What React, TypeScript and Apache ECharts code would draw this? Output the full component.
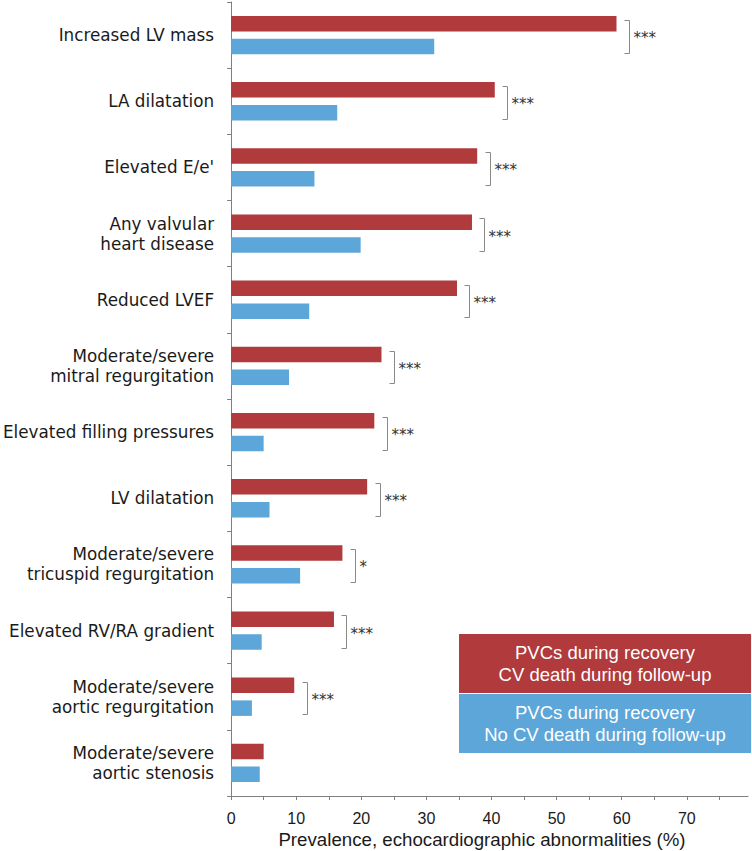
import React, { useEffect, useRef } from "react";
import * as echarts from "echarts";

const categories = [
  "Increased LV mass",
  "LA dilatation",
  "Elevated E/e'",
  "Any valvular\nheart disease",
  "Reduced LVEF",
  "Moderate/severe\nmitral regurgitation",
  "Elevated filling pressures",
  "LV dilatation",
  "Moderate/severe\ntricuspid regurgitation",
  "Elevated RV/RA gradient",
  "Moderate/severe\naortic regurgitation",
  "Moderate/severe\naortic stenosis",
];
const cvDeath = [59.2, 40.5, 37.8, 37.0, 34.7, 23.1, 22.0, 20.9, 17.1, 15.8, 9.7, 5.0];
const noCvDeath = [31.2, 16.3, 12.8, 19.9, 12.0, 8.9, 5.0, 5.9, 10.6, 4.7, 3.2, 4.4];
const significance = ["***", "***", "***", "***", "***", "***", "***", "***", "*", "***", "***", ""];
const xLabels = [0, 10, 20, 30, 40, 50, 60, 70];
const xTickValues = [0, 5, 10, 15, 20, 25, 30, 35, 40, 45, 50, 55, 60, 65, 70, 75];
const seriesNames = [
  "PVCs during recovery\nCV death during follow-up",
  "PVCs during recovery\nNo CV death during follow-up",
];
const xAxisTitle = "Prevalence, echocardiographic abnormalities (%)";

const RED = "#B03A3C";
const BLUE = "#5DA6DA";
const AXIS = "#7f7f7f";

export default function App() {
  const ref = useRef<HTMLDivElement>(null);
  useEffect(() => {
    if (!ref.current) return;
    const chart = echarts.init(ref.current, null, { renderer: "svg" });
    const bracketData = cvDeath
      .map((v, i) => [v, i, significance[i]])
      .filter((d) => d[2] !== "");
    chart.setOption({
      animation: false,
      grid: { left: 224, right: 4, top: 2, bottom: 55, containLabel: false },
      xAxis: {
        type: "value",
        min: 0,
        max: 79.4,
        splitLine: { show: false },
        axisLine: { show: true, lineStyle: { color: AXIS, width: 1 } },
        axisTick: { show: true, length: 4, customValues: xTickValues, lineStyle: { color: AXIS } },
        axisLabel: {
          margin: 14,
          fontFamily: "Liberation Sans, Arial, sans-serif",
          fontSize: 16,
          color: "#1a1a1a",
          customValues: xLabels,
        },
      },
      yAxis: {
        type: "category",
        inverse: true,
        data: categories,
        axisLine: { show: true, lineStyle: { color: AXIS, width: 1 } },
        axisTick: { show: true, length: 4, interval: 0, lineStyle: { color: AXIS } },
        axisLabel: {
          margin: 17,
          interval: 0,
          fontFamily: "DejaVu Sans, Verdana, sans-serif",
          fontSize: 16.8,
          lineHeight: 20,
          color: "#1a1a1a",
          align: "right",
        },
      },
      series: [
        {
          type: "bar",
          name: seriesNames[0],
          data: cvDeath,
          barWidth: 15.5,
          barGap: "47%",
          itemStyle: { color: RED },
        },
        {
          type: "bar",
          name: seriesNames[1],
          data: noCvDeath,
          barWidth: 15.5,
          barGap: "47%",
          itemStyle: { color: BLUE },
        },
        {
          type: "custom",
          data: bracketData,
          encode: { x: 0, y: 1 },
          silent: true,
          z: 5,
          renderItem: (params: any, api: any) => {
            const v = api.value(0);
            const idx = api.value(1);
            const c = api.coord([v + 1.9, idx]);
            const band = api.size([0, 1])[1];
            const x = Math.round(c[0]) + 0.5;
            const top = Math.round(c[1] - band * 0.228) + 0.5;
            const bot = Math.round(c[1] + band * 0.265) + 0.5;
            const label = bracketData[params.dataIndex][2] as string;
            return {
              type: "group",
              children: [
                {
                  type: "polyline",
                  shape: { points: [[x - 5, top], [x, top], [x, bot], [x - 5, bot]] },
                  style: { stroke: "#8a8a8a", lineWidth: 1, fill: null },
                },
                {
                  type: "text",
                  style: {
                    text: label,
                    x: x + 4,
                    y: c[1] + 3,
                    fill: "#333",
                    fontSize: 15,
                    fontFamily: "DejaVu Sans, Verdana, sans-serif",
                    verticalAlign: "middle",
                    align: "left",
                  },
                },
              ],
            };
          },
        },
      ],
      graphic: [
        {
          type: "rect",
          shape: { x: 459, y: 634, width: 292, height: 59 },
          style: { fill: RED },
        },
        {
          type: "rect",
          shape: { x: 459, y: 694, width: 292, height: 59 },
          style: { fill: BLUE },
        },
        {
          type: "text",
          style: {
            text: seriesNames[0],
            x: 605,
            y: 663.5,
            fill: "#ffffff",
            fontSize: 18.5,
            lineHeight: 22,
            fontFamily: "Liberation Sans, Arial, sans-serif",
            align: "center",
            verticalAlign: "middle",
          },
        },
        {
          type: "text",
          style: {
            text: seriesNames[1],
            x: 605,
            y: 723.5,
            fill: "#ffffff",
            fontSize: 18.5,
            lineHeight: 22,
            fontFamily: "Liberation Sans, Arial, sans-serif",
            align: "center",
            verticalAlign: "middle",
          },
        },
        {
          type: "text",
          style: {
            text: xAxisTitle,
            x: 482,
            y: 839,
            fill: "#1a1a1a",
            fontSize: 18.7,
            fontFamily: "Liberation Sans, Arial, sans-serif",
            align: "center",
            verticalAlign: "middle",
          },
        },
      ],
    });
    return () => chart.dispose();
  }, []);
  return <div ref={ref} style={{ width: 752, height: 851, position: "absolute", left: 0, top: 0 }} />;
}
